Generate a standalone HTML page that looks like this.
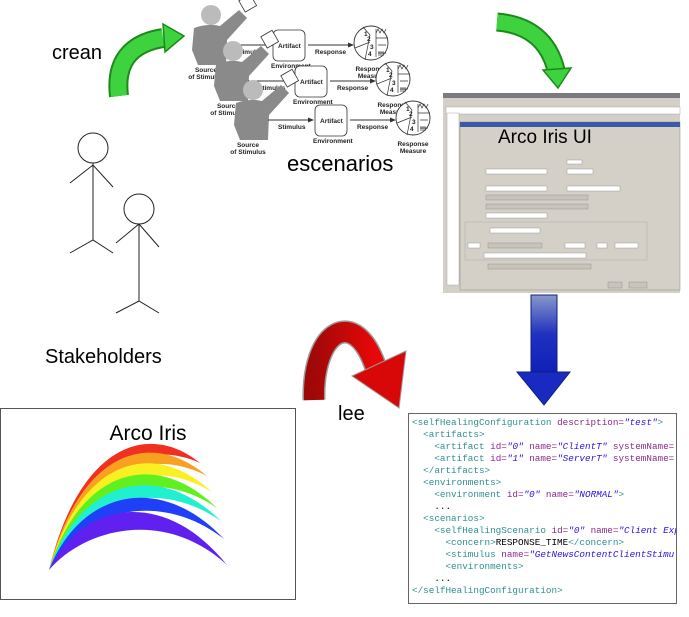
<!DOCTYPE html>
<html><head><meta charset="utf-8"><style>
html,body{margin:0;padding:0;background:#fff;}
svg{display:block;}
.sm{font-family:"Liberation Sans",sans-serif;font-weight:bold;font-size:6.5px;fill:#222;}
.x{font-family:"Liberation Mono","DejaVu Sans Mono",monospace;font-size:9.3px;white-space:pre;}
.t{fill:#2f8f8f}.a{fill:#8a2a8a}.v{fill:#2a10ee;font-style:italic}
</style></head><body>
<svg width="689" height="617" viewBox="0 0 689 617" xmlns="http://www.w3.org/2000/svg">
<defs>
<g id="set">
  <circle cx="253" cy="90" r="10" fill="#bbb"/>
  <path d="M236,103 Q250,98 262,101 L281,85 L289,93 L269,115 L268,140 L240,140 L234,125 Z" fill="#8a8a8a"/>
  <rect x="283" y="72" width="13" height="13" fill="#fff" stroke="#333" stroke-width="0.8" transform="rotate(-30 289 78)"/>
  <text class="sm" x="248" y="147" text-anchor="middle">Source</text>
  <text class="sm" x="248" y="154" text-anchor="middle">of Stimulus</text>
  <line x1="268" y1="120" x2="310" y2="120" stroke="#333" stroke-width="1"/>
  <polygon points="314,120 308,117.5 308,122.5" fill="#333"/>
  <text class="sm" x="278" y="129">Stimulus</text>
  <rect x="315" y="105" width="32" height="31" rx="5" fill="#fff" stroke="#333" stroke-width="0.8"/>
  <text class="sm" x="320" y="123">Artifact</text>
  <text class="sm" x="313" y="143">Environment</text>
  <line x1="350" y1="120" x2="392" y2="120" stroke="#333" stroke-width="1"/>
  <polygon points="396,120 390,117.5 390,122.5" fill="#333"/>
  <text class="sm" x="357" y="129">Response</text>
  <circle cx="413" cy="118" r="17" fill="#fff" stroke="#333" stroke-width="0.9"/>
  <path d="M405,102 L412,110 L407,135 M397,123 L412,117 M418,104 L418,132 M418,113 L430,113" stroke="#333" stroke-width="0.7" fill="none"/>
  <path d="M418,108 l2,-4 l2,4 l2,-4 l2,4 l2,-4" stroke="#333" stroke-width="0.7" fill="none"/>
  <text class="sm" x="406" y="111" font-size="6">1</text><text class="sm" x="409" y="116">2</text>
  <text class="sm" x="412" y="124">3</text><text class="sm" x="410" y="131">4</text>
  <path d="M420,120 h8 M420,128 h8 M421,126 v5 M423,126 v5 M425,126 v5" stroke="#333" stroke-width="0.7"/>
  <text class="sm" x="413" y="146" text-anchor="middle">Response</text>
  <text class="sm" x="413" y="153" text-anchor="middle">Measure</text>
</g>
<linearGradient id="bl" x1="0" y1="0" x2="0" y2="1"><stop offset="0" stop-color="#8898c8"/><stop offset="0.5" stop-color="#2030c0"/><stop offset="1" stop-color="#1020b8"/></linearGradient>
<linearGradient id="rd" x1="0" y1="0" x2="1" y2="0"><stop offset="0" stop-color="#a00808"/><stop offset="1" stop-color="#e80808"/></linearGradient>
</defs>

<!-- crean -->
<text x="52" y="59" font-family="Liberation Sans,sans-serif" font-size="20">crean</text>
<path d="M119,96 Q113,46 163,38" stroke="#1a8a1a" stroke-width="20" fill="none"/>
<path d="M119,96 Q113,46 163,38" stroke="#3ed23e" stroke-width="16" fill="none"/>
<polygon points="163,24 184,36 165,52" fill="#3ed23e" stroke="#1a8a1a" stroke-width="1.5"/>

<!-- stick figures -->
<g stroke="#222" stroke-width="1" fill="none">
<circle cx="93" cy="148" r="15"/>
<path d="M93,163 V240 M70,183 L93,165 L113,187 M70,253 L93,240 L113,253"/>
<circle cx="139" cy="209" r="15"/>
<path d="M139,224 V301 M116,243 L139,224 L159,247 M116,313 L139,301 L159,313"/>
</g>
<text x="45" y="363" font-family="Liberation Sans,sans-serif" font-size="20">Stakeholders</text>

<!-- scenarios -->
<use href="#set" transform="translate(-42,-75)"/>
<use href="#set" transform="translate(-20,-39)"/>
<use href="#set"/>
<text x="287" y="171" font-family="Liberation Sans,sans-serif" font-size="22">escenarios</text>

<!-- green arrow 2 -->
<path d="M497,22 Q545,26 556,70" stroke="#1a8a1a" stroke-width="19" fill="none"/>
<path d="M497,22 Q545,26 556,70" stroke="#3ed23e" stroke-width="15" fill="none"/>
<polygon points="543,70 571,68 558,88" fill="#3ed23e" stroke="#1a8a1a" stroke-width="1.5"/>

<!-- UI screenshot -->
<rect x="443" y="93" width="237" height="200" fill="#d4d0c8"/>
<rect x="443" y="93" width="237" height="5" fill="#7a7a80"/>
<rect x="446" y="107" width="234" height="7" fill="#fff" stroke="#999" stroke-width="0.4"/>
<rect x="447" y="113" width="12" height="172" fill="#fff" stroke="#999" stroke-width="0.4"/>
<rect x="460" y="122" width="220" height="168" fill="#d4d0c8" stroke="#888" stroke-width="0.5"/>
<rect x="460" y="122" width="220" height="5" fill="#3a5aa8"/>
<text x="498" y="143" font-family="Liberation Sans,sans-serif" font-size="19">Arco Iris UI</text>
<g fill="#fff" stroke="#888" stroke-width="0.4">
<rect x="486" y="169" width="61" height="5"/><rect x="567" y="160" width="15" height="4"/>
<rect x="567" y="169" width="26" height="5"/><rect x="486" y="186" width="61" height="5"/>
<rect x="567" y="186" width="53" height="5"/><rect x="486" y="213" width="61" height="5"/>
<rect x="468" y="243" width="12" height="5"/><rect x="565" y="243" width="20" height="5"/>
<rect x="597" y="243" width="10" height="5"/><rect x="615" y="243" width="23" height="5"/>
<rect x="484" y="253" width="102" height="5"/><rect x="490" y="228" width="50" height="5"/>
</g>
<g fill="#c8c4bc" stroke="#888" stroke-width="0.4">
<rect x="486" y="195" width="102" height="5"/><rect x="486" y="204" width="102" height="5"/>
<rect x="488" y="243" width="54" height="5"/><rect x="488" y="264" width="103" height="5"/>
<rect x="608" y="282" width="14" height="6"/><rect x="629" y="282" width="18" height="6"/>
</g>
<rect x="465" y="222" width="182" height="38" fill="none" stroke="#aaa" stroke-width="0.5"/>

<!-- blue arrow -->
<rect x="531" y="295" width="26" height="78" fill="url(#bl)" stroke="#102080" stroke-width="1"/>
<polygon points="517,372 570,372 544,405" fill="#1a2ac0" stroke="#102080" stroke-width="1"/>

<!-- red arrow -->
<path d="M314,400 C312,330 355,305 376,368" stroke="#999" stroke-width="23" fill="none"/>
<path d="M314,400 C312,330 355,305 376,368" stroke="url(#rd)" stroke-width="20" fill="none"/>
<polygon points="352,376 406,351 399,408" fill="#d80808" stroke="#999" stroke-width="1"/>
<text x="338" y="420" font-family="Liberation Sans,sans-serif" font-size="20">lee</text>

<!-- Arco Iris box -->
<rect x="0.5" y="408.5" width="295" height="191" fill="#fff" stroke="#555" stroke-width="1"/>
<text x="148" y="440" text-anchor="middle" font-family="Liberation Sans,sans-serif" font-size="21">Arco Iris</text>
<path d="M49,570 C80,442 150,422 200,463 C150,440 80,460 49,570Z" fill="#f03020"/>
<path d="M49,570 C80,449 152,429 207,476 C152,447 80,467 49,570Z" fill="#f8a020"/>
<path d="M49,570 C80,458 154,438 212,492 C154,456 80,476 49,570Z" fill="#f8f020"/>
<path d="M49,570 C80,468 156,448 217,508 C156,466 80,486 49,570Z" fill="#60f020"/>
<path d="M49,570 C80,479 158,459 221,521 C158,477 80,497 49,570Z" fill="#20f0d0"/>
<path d="M49,570 C80,491 160,471 224,539 C160,489 80,509 49,570Z" fill="#2040f8"/>
<path d="M49,570 C80,504 162,484 227,565 C165,508 85,528 49,570Z" fill="#6020f0"/>

<!-- XML -->
<rect x="408.5" y="413.5" width="268" height="190" fill="#fff" stroke="#666" stroke-width="1"/>
<svg x="409" y="414" width="267" height="189" overflow="hidden">
<g transform="translate(-409,-414)">
<text class="x" x="412" y="425"><tspan class="t">&lt;selfHealingConfiguration </tspan><tspan class="a">description=</tspan><tspan class="v">"test"</tspan><tspan class="t">&gt;</tspan></text>
<text class="x" x="412" y="437"><tspan class="t">  &lt;artifacts&gt;</tspan></text>
<text class="x" x="412" y="449"><tspan class="t">    &lt;artifact </tspan><tspan class="a">id=</tspan><tspan class="v">"0"</tspan><tspan class="a"> name=</tspan><tspan class="v">"ClientT"</tspan><tspan class="a"> systemName=</tspan></text>
<text class="x" x="412" y="461"><tspan class="t">    &lt;artifact </tspan><tspan class="a">id=</tspan><tspan class="v">"1"</tspan><tspan class="a"> name=</tspan><tspan class="v">"ServerT"</tspan><tspan class="a"> systemName=</tspan></text>
<text class="x" x="412" y="473"><tspan class="t">  &lt;/artifacts&gt;</tspan></text>
<text class="x" x="412" y="485"><tspan class="t">  &lt;environments&gt;</tspan></text>
<text class="x" x="412" y="497"><tspan class="t">    &lt;environment </tspan><tspan class="a">id=</tspan><tspan class="v">"0"</tspan><tspan class="a"> name=</tspan><tspan class="v">"NORMAL"</tspan><tspan class="t">&gt;</tspan></text>
<text class="x" x="412" y="509">    ...</text>
<text class="x" x="412" y="521"><tspan class="t">  &lt;scenarios&gt;</tspan></text>
<text class="x" x="412" y="533"><tspan class="t">    &lt;selfHealingScenario </tspan><tspan class="a">id=</tspan><tspan class="v">"0"</tspan><tspan class="a"> name=</tspan><tspan class="v">"Client Exp</tspan></text>
<text class="x" x="412" y="545"><tspan class="t">      &lt;concern&gt;</tspan><tspan fill="#000">RESPONSE_TIME</tspan><tspan class="t">&lt;/concern&gt;</tspan></text>
<text class="x" x="412" y="557"><tspan class="t">      &lt;stimulus </tspan><tspan class="a">name=</tspan><tspan class="v">"GetNewsContentClientStimu</tspan></text>
<text class="x" x="412" y="569"><tspan class="t">      &lt;environments&gt;</tspan></text>
<text class="x" x="412" y="581">    ...</text>
<text class="x" x="412" y="593"><tspan class="t">&lt;/selfHealingConfiguration&gt;</tspan></text>
</g>
</svg>
</svg>
</body></html>
